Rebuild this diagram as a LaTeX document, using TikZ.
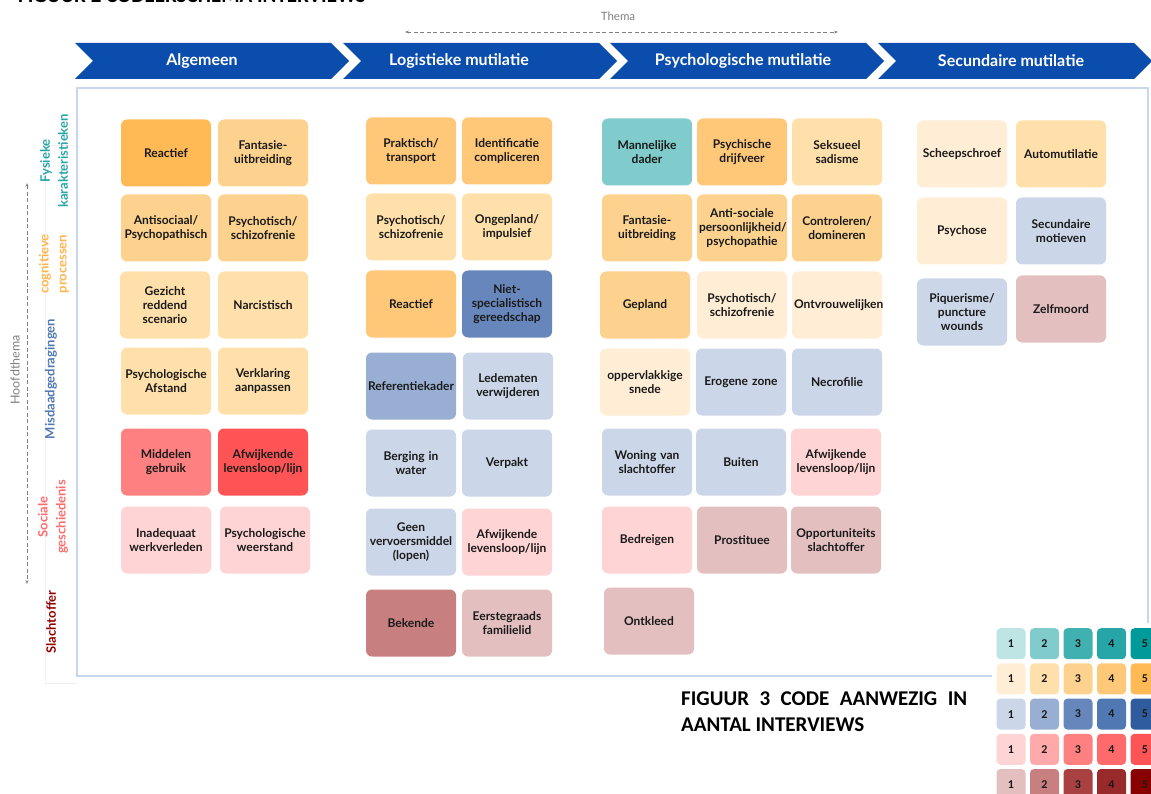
\documentclass[tikz,border=0pt]{standalone}
\usepackage{fontspec}
\setmainfont{Lato}
\newfontfamily\calib{Carlito}
\usetikzlibrary{arrows.meta}

\definecolor{hdblue}{HTML}{0A4DAD}
\definecolor{frameblue}{HTML}{C9D7EE}
\definecolor{txt}{HTML}{1A1A1A}
% kleurschalen (1 = weinig, 5 = veel interviews)
\definecolor{t1}{HTML}{BFE4E4}\definecolor{t2}{HTML}{80CBCB}\definecolor{t3}{HTML}{40B0B0}\definecolor{t4}{HTML}{26A6A6}\definecolor{t5}{HTML}{009A9A}
\definecolor{o1}{HTML}{FFEED5}\definecolor{o2}{HTML}{FFE0AA}\definecolor{o3}{HTML}{FDD28E}\definecolor{o4}{HTML}{FFC879}\definecolor{o5}{HTML}{FFBA55}
\definecolor{b1}{HTML}{CBD6E8}\definecolor{b2}{HTML}{98AFD3}\definecolor{b3}{HTML}{6787BC}\definecolor{b4}{HTML}{5078B2}\definecolor{b5}{HTML}{2F5B9F}
\definecolor{r1}{HTML}{FFD4D5}\definecolor{r2}{HTML}{FFA9AA}\definecolor{r3}{HTML}{FF8080}\definecolor{r4}{HTML}{FF6B6C}\definecolor{r5}{HTML}{FF5456}
\definecolor{d1}{HTML}{E3BFBF}\definecolor{d2}{HTML}{C77F80}\definecolor{d3}{HTML}{A94041}\definecolor{d4}{HTML}{982A2B}\definecolor{d5}{HTML}{880000}

\tikzstyle{code}=[rectangle,rounded corners=6pt,minimum width=90pt,minimum height=67pt,text width=86pt,inner sep=2pt,align=center,text=txt,font=\bfseries\fontsize{12}{14}\selectfont]
\tikzstyle{cat}=[align=center,rotate=90,inner sep=0pt,font=\bfseries\fontsize{13}{18}\selectfont]
\tikzstyle{hdtext}=[text=white,font=\bfseries\fontsize{16}{18}\selectfont]
\tikzstyle{axis}=[gray,dash pattern=on 4pt off 2.5pt,line width=0.8pt,{Stealth[length=4pt]}-{Stealth[length=4pt]}]
\tikzstyle{sq}=[rectangle,rounded corners=4pt,minimum width=29pt,minimum height=31pt,inner sep=0pt,text=txt,font=\calib\bfseries\fontsize{12}{14}\selectfont]
\newcommand{\chevron}[1]{\fill[hdblue] (#1,43) -- ++(256,0) -- ++(18,18) -- ++(-18,18) -- ++(-256,0) -- ++(18,-18) -- cycle;}

\begin{document}
\begin{tikzpicture}[x=1pt,y=-1pt]
    \useasboundingbox (0,0) rectangle (1151,794);
    \node[anchor=base west,inner sep=0pt,font=\calib\bfseries\fontsize{21}{26}\selectfont] (titel) at (18,3) {FIGUUR 2 CODEERSCHEMA INTERVIEWS};
    % thema-as
    \coordinate (th1) at (405,32);
    \coordinate (th2) at (838,32);
    \draw[axis] (th1) -- (th2);
    \node[gray,font=\fontsize{11.5}{13}\selectfont] (thema) at (618,16) {Thema};
    % kopjes
    \chevron{75}
    \chevron{343}
    \chevron{610}
    \chevron{878}
    \node[hdtext] (alg) at (202,61) {Algemeen};
    \node[hdtext] (log) at (459,61) {Logistieke mutilatie};
    \node[hdtext] (psy) at (743,61) {Psychologische mutilatie};
    \node[hdtext] (sec) at (1011,61) {Secundaire mutilatie};
    % kader
    \draw[black!6,line width=0.8pt] (77,145) -- (45,145) -- (45,683) -- (77,683);
    \draw[frameblue,line width=1.6pt] (1148,623) -- (1148,88) -- (77,88) -- (77,676) -- (992,676);
    % hoofdthema-as
    \coordinate (hf1) at (27,183);
    \coordinate (hf2) at (27,584);
    \draw[axis] (hf1) -- (hf2);
    \node[gray,rotate=90,font=\fontsize{12.5}{14}\selectfont] (hoofd) at (15,370) {Hoofdthema};
    \node[cat,text=t4] (fys) at (54,161) {Fysieke\\karakteristieken};
    \node[cat,text=o5!90!orange] (cog) at (54,264) {cognitieve\\processen};
    \node[cat,text=b4] (mis) at (51,379) {Misdaadgedragingen};
    \node[cat,text=r4] (soc) at (53,517) {Sociale\\geschiedenis};
    \node[cat,text=d5!90!red] (sla) at (51,622) {Slachtoffer};
    % Algemeen
    \node[code,fill=o5] (a11) at (166,153) {Reactief};
    \node[code,fill=o3] (a12) at (263,153) {Fantasie-\\uitbreiding};
    \node[code,fill=o3] (a21) at (166,228) {Antisociaal/\\Psychopathisch};
    \node[code,fill=o3] (a22) at (263,228) {Psychotisch/\\schizofrenie};
    \node[code,fill=o2] (a31) at (165,305) {Gezicht\\reddend\\scenario};
    \node[code,fill=o2] (a32) at (263,305) {Narcistisch};
    \node[code,fill=o2] (a41) at (166,381) {Psychologische\\Afstand};
    \node[code,fill=o2] (a42) at (263,381) {Verklaring\\aanpassen};
    \node[code,fill=r3] (a51) at (166,462) {Middelen\\gebruik};
    \node[code,fill=r5] (a52) at (263,462) {Afwijkende\\levensloop/lijn};
    \node[code,fill=r1] (a61) at (166,540) {Inadequaat\\werkverleden};
    \node[code,fill=r1] (a62) at (265,540) {Psychologische\\weerstand};
    % Logistieke mutilatie
    \node[code,fill=o4] (l11) at (411,151) {Praktisch/\\transport};
    \node[code,fill=o4] (l12) at (507,151) {Identificatie\\compliceren};
    \node[code,fill=o2] (l21) at (411,227) {Psychotisch/\\schizofrenie};
    \node[code,fill=o2] (l22) at (507,227) {Ongepland/\\impulsief};
    \node[code,fill=o4] (l31) at (411,304) {Reactief};
    \node[code,fill=b3] (l32) at (507,304) {Niet-\\specialistisch\\gereedschap};
    \node[code,fill=b2] (l41) at (411,386) {Referentiekader};
    \node[code,fill=b1] (l42) at (508,386) {Ledematen\\verwijderen};
    \node[code,fill=b1] (l51) at (411,463) {Berging in\\water};
    \node[code,fill=b1] (l52) at (507,463) {Verpakt};
    \node[code,fill=b1] (l61) at (411,542) {Geen\\vervoersmiddel\\(lopen)};
    \node[code,fill=r1] (l62) at (507,542) {Afwijkende\\levensloop/lijn};
    \node[code,fill=d2] (l71) at (411,623) {Bekende};
    \node[code,fill=d1] (l72) at (507,623) {Eerstegraads\\familielid};
    % Psychologische mutilatie
    \node[code,fill=t2] (p11) at (647,152) {Mannelijke\\dader};
    \node[code,fill=o4] (p12) at (742,152) {Psychische\\drijfveer};
    \node[code,fill=o2] (p13) at (837,152) {Seksueel\\sadisme};
    \node[code,fill=o3] (p21) at (647,228) {Fantasie-\\uitbreiding};
    \node[code,fill=o3] (p22) at (742,228) {Anti-sociale\\persoonlijkheid/\\psychopathie};
    \node[code,fill=o3] (p23) at (837,228) {Controleren/\\domineren};
    \node[code,fill=o3] (p31) at (645,305) {Gepland};
    \node[code,fill=o1] (p32) at (742,305) {Psychotisch/\\schizofrenie};
    \node[code,fill=o1] (p33) at (837,305) {Ontvrouwelijken};
    \node[code,fill=o1] (p41) at (645,382) {oppervlakkige\\snede};
    \node[code,fill=b1] (p42) at (741,382) {Erogene zone};
    \node[code,fill=b1] (p43) at (837,382) {Necrofilie};
    \node[code,fill=b1] (p51) at (647,462) {Woning van\\slachtoffer};
    \node[code,fill=b1] (p52) at (741,462) {Buiten};
    \node[code,fill=r1] (p53) at (836,462) {Afwijkende\\levensloop/lijn};
    \node[code,fill=r1] (p61) at (647,540) {Bedreigen};
    \node[code,fill=d1] (p62) at (742,540) {Prostituee};
    \node[code,fill=d1] (p63) at (836,540) {Opportuniteits\\slachtoffer};
    \node[code,fill=d1] (p71) at (649,621) {Ontkleed};
    % Secundaire mutilatie
    \node[code,fill=o1] (s11) at (962,154) {Scheepschroef};
    \node[code,fill=o2] (s12) at (1061,154) {Automutilatie};
    \node[code,fill=o1] (s21) at (962,231) {Psychose};
    \node[code,fill=b1] (s22) at (1061,231) {Secundaire\\motieven};
    \node[code,fill=b1] (s31) at (962,312) {Piquerisme/\\puncture\\wounds};
    \node[code,fill=d1] (s32) at (1061,309) {Zelfmoord};
    % figuur 3
    \node[anchor=base west,inner sep=0pt,font=\calib\bfseries\fontsize{21}{26}\selectfont] (fig3a) at (681,705) {\makebox[286pt][s]{FIGUUR 3 CODE AANWEZIG IN}};
    \node[anchor=base west,inner sep=0pt,font=\calib\bfseries\fontsize{21}{26}\selectfont] (fig3b) at (681,731) {AANTAL INTERVIEWS};
    \foreach \c [count=\i] in {t,o,b,r,d}
      \foreach \n in {1,...,5}
        \node[sq,fill=\c\n] (lg-\c\n) at ({977.5+33.5*\n},{608.5+35.2*\i}) {\n};
\end{tikzpicture}
\end{document}
